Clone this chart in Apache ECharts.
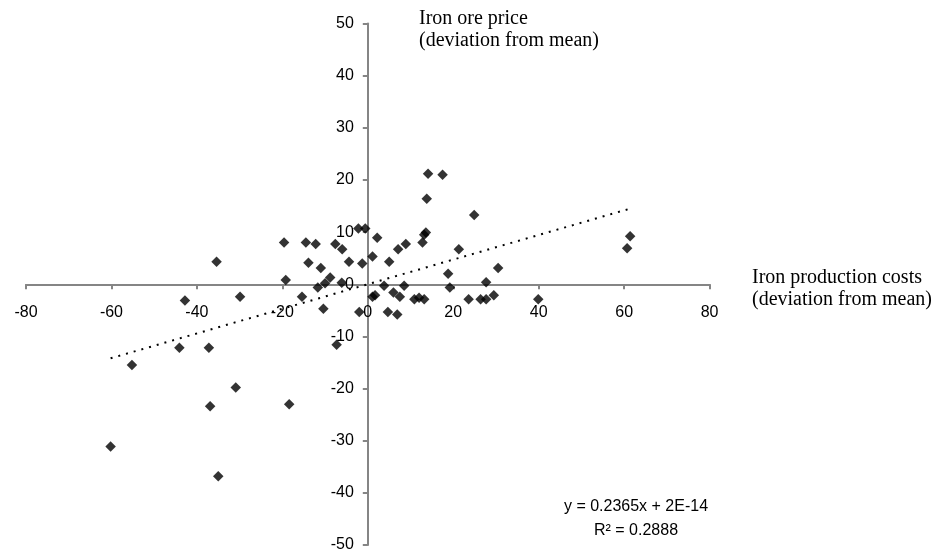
<!DOCTYPE html>
<html>
<head>
<meta charset="utf-8">
<script src="https://cdn.jsdelivr.net/npm/echarts@6/dist/echarts.min.js"></script>
<style>
html,body{margin:0;padding:0;background:#fff;}
#chart{width:939px;height:558px;}
</style>
</head>
<body>
<div id="chart"></div>
<script>
// Iron production costs (deviation from mean)
const costX = [-60.2, -55.2, -44.1, -42.8, -37.2, -36.9, -35.4, -35.0, -30.9, -29.9,
  -19.6, -19.2, -18.4, -15.4, -14.5, -13.9, -12.2, -11.7, -11.0, -10.4,
  -10.0, -8.8, -7.6, -7.3, -6.0, -6.1, -4.4, -2.2, -0.6, -2.0,
  -1.3, 1.1, 1.7, 1.1, 2.2, 3.8, 4.7, 5.0, 6.0, 6.9,
  7.1, 7.5, 8.5, 8.9, 10.9, 12.0, 13.2, 12.8, 13.2, 13.6,
  13.8, 14.1, 17.5, 18.8, 19.2, 21.3, 23.6, 24.9, 26.4, 27.7,
  27.7, 29.5, 30.5, 39.9, 60.7, 61.4];
// Iron ore price (deviation from mean)
const priceY = [-31.1, -15.5, -12.2, -3.1, -12.2, -23.4, 4.3, -36.8, -19.8, -2.4,
  8.0, 0.8, -23.0, -2.4, 8.0, 4.1, 7.7, -0.6, 3.1, -4.7,
  0.2, 1.3, 7.7, -11.6, 6.7, 0.3, 4.3, 10.7, 10.7, -5.3,
  4.0, 5.3, -2.1, -2.4, 8.9, -0.3, -5.3, 4.3, -1.6, -5.8,
  6.7, -2.4, -0.3, 7.7, -2.9, -2.6, -2.9, 8.0, 9.5, 9.9,
  16.4, 21.2, 21.0, 2.0, -0.6, 6.7, -2.9, 13.3, -2.9, -2.9,
  0.4, -2.1, 3.1, -2.9, 6.9, 9.2];
// Linear trendline end points
const trendX = [-60.2, 61.4];
const trendY = [-14.2, 14.5];
// Axis ranges / ticks
const xRange = [-80, 80, 20];
const yRange = [-50, 50, 10];
const equationText = ['y = 0.2365x + 2E-14', 'R² = 0.2888'];
const yTitle = ['Iron ore price', '(deviation from mean)'];
const xTitle = ['Iron production costs', '(deviation from mean)'];

const pts = costX.map((x, i) => [x, priceY[i]]);
const trend = trendX.map((x, i) => [x, trendY[i]]);

const G = {left: 26, top: 23.5, width: 683.6, height: 521.5};

const chart = echarts.init(document.getElementById('chart'), null, {renderer: 'canvas'});
const axisCommon = {
  type: 'value',
  splitLine: {show: false},
  axisLine: {show: true, onZero: false, lineStyle: {color: '#858585', width: 2}},
  axisTick: {show: true, inside: false, length: 5, lineStyle: {color: '#858585', width: 2}},
  axisLabel: {color: '#000', fontFamily: 'Liberation Sans, Arial, sans-serif', fontSize: 16}
};
const titleStyle = {fill: '#000', fontFamily: 'Liberation Serif, Times New Roman, serif', fontSize: 20};
chart.setOption({
  animation: false,
  backgroundColor: '#fff',
  grid: Object.assign({containLabel: false, outerBoundsMode: 'none'}, G),
  xAxis: Object.assign({}, axisCommon, {
    position: 'bottom',
    // move the axis up to the zero line (range is symmetric)
    offset: -G.height / 2,
    min: xRange[0], max: xRange[1], interval: xRange[2],
    axisLabel: Object.assign({}, axisCommon.axisLabel, {margin: 20})
  }),
  yAxis: Object.assign({}, axisCommon, {
    position: 'left',
    offset: -G.width / 2,
    min: yRange[0], max: yRange[1], interval: yRange[2],
    axisLabel: Object.assign({}, axisCommon.axisLabel, {margin: 14})
  }),
  series: [
    {
      type: 'line',
      data: trend,
      symbol: 'none',
      silent: true,
      lineStyle: {color: '#000', width: 2, type: [2, 6]},
      z: 3
    },
    {
      type: 'scatter',
      data: pts,
      symbol: 'diamond',
      symbolSize: 10.5,
      itemStyle: {color: '#000'},
      z: 2
    }
  ],
  graphic: [
    {type: 'text', left: 419, top: 9, style: Object.assign({text: yTitle[0]}, titleStyle)},
    {type: 'text', left: 419, top: 31, style: Object.assign({text: yTitle[1]}, titleStyle)},
    {type: 'text', left: 752, top: 268, style: Object.assign({text: xTitle[0]}, titleStyle)},
    {type: 'text', left: 752, top: 290, style: Object.assign({text: xTitle[1]}, titleStyle)},
    {type: 'text', x: 636, y: 507, style: {text: equationText[0], fill: '#000', fontFamily: 'Liberation Sans, Arial, sans-serif', fontSize: 16, align: 'center', verticalAlign: 'middle'}},
    {type: 'text', x: 636, y: 531, style: {text: equationText[1], fill: '#000', fontFamily: 'Liberation Sans, Arial, sans-serif', fontSize: 16, align: 'center', verticalAlign: 'middle'}}
  ]
});
</script>
</body>
</html>
